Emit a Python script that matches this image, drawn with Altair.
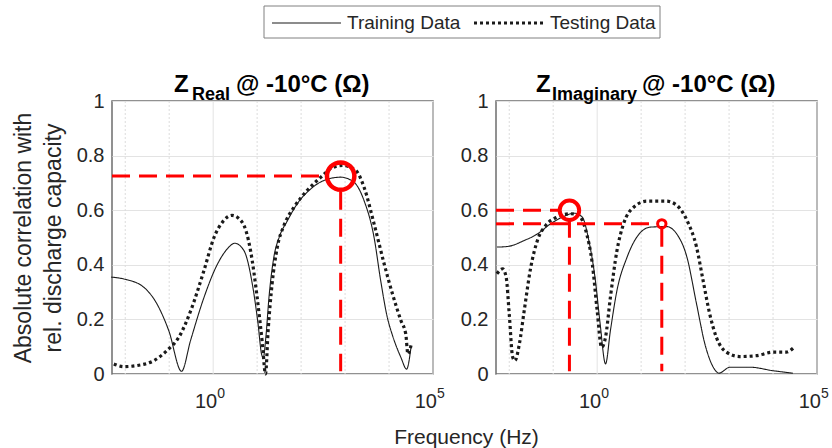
import altair as alt
import pandas as pd

FONT = "Liberation Sans"
TXT = "#262626"
SERIES = ["Training Data", "Testing Data"]
X_DOMAIN = [0.005, 100000]
Y_TICKS = [0, 0.2, 0.4, 0.6, 0.8, 1]
MINOR_DECADES = [0.01, 0.1, 10, 100, 1000, 10000]
MAJOR_DECADES = [1, 100000]
X_LABEL_BASE = ["10", "10"]
X_LABEL_EXP = ["0", "5"]

# ---- Z_Real panel ----
real_train_f = [0.00479, 0.00933, 0.0263, 0.0525, 0.0977, 0.191, 0.305, 0.617, 1.23, 2.09, 3.09, 5.01,
                7.76, 10.5, 12.6, 13.8, 15.8, 18.6, 24.0, 31.6, 49.0, 81.3, 166, 331, 794, 1580, 2690,
                4570, 6460, 9120, 12000, 18600, 25100, 31600]
real_train_y = [0.355, 0.348, 0.318, 0.257, 0.159, 0.01, 0.122, 0.28, 0.40, 0.458, 0.479, 0.452,
                0.33, 0.183, 0.073, 0.06, 0.135, 0.281, 0.428, 0.50, 0.562, 0.623, 0.678, 0.709, 0.721,
                0.703, 0.636, 0.50, 0.342, 0.208, 0.141, 0.061, 0.018, 0.098]
real_test_f = [0.0055, 0.00933, 0.0186, 0.0447, 0.0891, 0.166, 0.309, 0.617, 1.05, 1.62, 2.69, 4.57,
               7.08, 10.0, 13.2, 15.5, 17.8, 21.9, 28.8, 40.7, 69.2, 138, 282, 468, 871, 1740, 2690,
               4570, 7760, 12000, 18600, 24000, 26900, 31600]
real_test_y = [0.037, 0.027, 0.031, 0.049, 0.086, 0.135, 0.232, 0.379, 0.501, 0.556, 0.581, 0.556,
               0.452, 0.281, 0.11, 0.0, 0.16, 0.33, 0.465, 0.544, 0.611, 0.673, 0.721, 0.752, 0.764,
               0.746, 0.685, 0.55, 0.403, 0.293, 0.196, 0.147, 0.073, 0.105]
# best frequency marker (Z_Real)
real_peak_f = [794]
real_peak_y = [0.725]
real_hline_end_f = [363]
real_vline_top_y = [0.668]

# ---- Z_Imaginary panel ----
imag_train_f = [0.00525, 0.00912, 0.0219, 0.0437, 0.0871, 0.174, 0.295, 0.457, 0.646, 0.912, 1.17,
                1.55, 2.0, 2.82, 4.79, 7.94, 16.2, 38.0, 64.6, 110, 182, 282, 437, 589, 1050, 2950,
                10000, 28200]
imag_train_y = [0.465, 0.467, 0.489, 0.513, 0.55, 0.577, 0.589, 0.575, 0.489, 0.342, 0.183,
                0.037, 0.159, 0.306, 0.428, 0.501, 0.538, 0.54, 0.513, 0.428, 0.257, 0.11, 0.025,
                0.003, 0.025, 0.025, 0.012, 0.003]
imag_test_f = [0.00525, 0.00708, 0.00851, 0.01, 0.012, 0.0135, 0.017, 0.0219, 0.0309, 0.0437, 0.0676,
               0.123, 0.251, 0.38, 0.55, 0.776, 1.0, 1.26, 1.55, 2.0, 2.82, 3.98, 6.76, 13.5, 38.0,
               64.6, 110, 182, 257, 363, 513, 871, 1740, 4170, 10000, 20000, 28800]
imag_test_y = [0.367, 0.385, 0.355, 0.22, 0.061, 0.049, 0.11, 0.232, 0.391, 0.489, 0.544,
               0.575, 0.587, 0.581, 0.526, 0.403, 0.232, 0.098, 0.135, 0.281, 0.452, 0.55, 0.611,
               0.633, 0.633, 0.618, 0.563, 0.465, 0.342, 0.22, 0.135, 0.08, 0.064, 0.067, 0.08,
               0.08, 0.095]
# markers (Z_Imaginary): large and small circle
imag_peak_f = [0.234, 29.5]
imag_peak_y = [0.60, 0.55]
imag_hline_end_f = [0.145, 22.4]
imag_vline_top_y = [0.565, 0.532]

RED = "#ff0000"
W, H = 321, 273
DASH = {SERIES[0]: [1, 0], SERIES[1]: [3, 3]}
LWIDTH = {SERIES[0]: 1.1, SERIES[1]: 3.2}


def series_df(f_train, y_train, f_test, y_test):
    return pd.concat([
        pd.DataFrame({"f": f_train, "y": y_train, "series": SERIES[0]}),
        pd.DataFrame({"f": f_test, "y": y_test, "series": SERIES[1]}),
    ], ignore_index=True)


def legend_layers():
    layers = []
    box = alt.Chart(pd.DataFrame({"t": ["legend"]})).mark_rect(
        fill="white", stroke="#808080", strokeWidth=1
    ).encode(x=alt.value(152), x2=alt.value(548), y=alt.value(-95), y2=alt.value(-63))
    layers.append(box)
    xs_line = [(160, 229, 235), (362, 434, 438)]
    for s, (x0, x1, xt) in zip(SERIES, xs_line):
        d = pd.DataFrame({"t": [s]})
        layers.append(alt.Chart(d).mark_rule(
            color="#1a1a1a", strokeWidth=LWIDTH[s], strokeDash=DASH[s], strokeCap="butt"
        ).encode(x=alt.value(x0), x2=alt.value(x1), y=alt.value(-78)))
        layers.append(alt.Chart(d).mark_text(
            align="left", baseline="middle", font=FONT, fontSize=19, color=TXT
        ).encode(x=alt.value(xt), y=alt.value(-78), text="t:N"))
    return layers


def panel(df, peak_f, peak_y, hl_end, vl_top, circle_sizes, circle_widths,
          title_parts, with_legend, y_title):
    xs = alt.Scale(type="log", domain=X_DOMAIN, nice=False)
    ys = alt.Scale(domain=[0, 1], nice=False)

    y_axis = alt.Axis(values=Y_TICKS, format="~g", grid=True, gridColor="#e3e3e3",
                      ticks=False, domain=False, labelFontSize=20, labelPadding=8,
                      title=y_title if y_title else None, titleFontSize=23,
                      titleFontWeight="normal", titleLineHeight=30, titlePadding=11)
    x_axis = alt.Axis(values=MAJOR_DECADES, labels=False,
                      grid=False, ticks=False, domain=False, title=None)

    minor = alt.Chart(pd.DataFrame({"f": MINOR_DECADES})).mark_rule(
        color="#dcdcdc", strokeWidth=1, strokeDash=[2, 2]
    ).encode(x=alt.X("f:Q", scale=xs, axis=x_axis))
    major = alt.Chart(pd.DataFrame({"f": MAJOR_DECADES})).mark_rule(
        color="#e3e3e3", strokeWidth=1
    ).encode(x=alt.X("f:Q", scale=xs, axis=x_axis))

    lab_df = pd.DataFrame({"f": MAJOR_DECADES, "base": X_LABEL_BASE, "exp": X_LABEL_EXP})
    lab_base = alt.Chart(lab_df).mark_text(
        align="right", baseline="alphabetic", dx=4, font=FONT, fontSize=20, color=TXT
    ).encode(x=alt.X("f:Q", scale=xs, axis=x_axis), y=alt.value(H + 34), text="base:N")
    lab_exp = alt.Chart(lab_df).mark_text(
        align="left", baseline="alphabetic", dx=4, font=FONT, fontSize=14, color=TXT
    ).encode(x=alt.X("f:Q", scale=xs, axis=x_axis), y=alt.value(H + 24), text="exp:N")

    lines = alt.Chart(df).mark_line(color="#1a1a1a", interpolate="monotone", strokeCap="butt").encode(
        x=alt.X("f:Q", scale=xs, axis=x_axis),
        y=alt.Y("y:Q", scale=ys, axis=y_axis),
        strokeDash=alt.StrokeDash("series:N", scale=alt.Scale(domain=SERIES, range=[DASH[s] for s in SERIES]),
                                  legend=None),
        strokeWidth=alt.StrokeWidth("series:N", scale=alt.Scale(domain=SERIES, range=[LWIDTH[s] for s in SERIES]),
                                    legend=None),
    )

    hdf = pd.DataFrame({"f0": [X_DOMAIN[0]] * len(peak_y), "f1": hl_end, "y": peak_y})
    hl = alt.Chart(hdf).mark_rule(color=RED, strokeWidth=3, strokeDash=[18, 9]).encode(
        x=alt.X("f0:Q", scale=xs, axis=x_axis), x2="f1:Q", y=alt.Y("y:Q", scale=ys, axis=y_axis))
    vdf = pd.DataFrame({"f": peak_f, "y0": [0.01] * len(peak_f), "y1": vl_top})
    vl = alt.Chart(vdf).mark_rule(color=RED, strokeWidth=3, strokeDash=[18, 9]).encode(
        x=alt.X("f:Q", scale=xs, axis=x_axis), y=alt.Y("y1:Q", scale=ys, axis=y_axis), y2="y0:Q")

    circles = []
    for i in range(len(peak_f)):
        cdf = pd.DataFrame({"f": [peak_f[i]], "y": [peak_y[i]]})
        circles.append(alt.Chart(cdf).mark_point(
            shape="circle", filled=False, color=RED, size=circle_sizes[i],
            strokeWidth=circle_widths[i], opacity=1
        ).encode(x=alt.X("f:Q", scale=xs, axis=x_axis), y=alt.Y("y:Q", scale=ys, axis=y_axis)))

    texts = []
    for txt, px, py, fs in title_parts:
        texts.append(alt.Chart(pd.DataFrame({"t": [txt]})).mark_text(
            align="left", baseline="alphabetic", font=FONT, fontWeight="bold",
            fontSize=fs, color="#000000"
        ).encode(x=alt.value(px), y=alt.value(py), text="t:N"))

    extra = legend_layers() if with_legend else []
    return alt.layer(minor, major, lines, hl, vl, *circles, lab_base, lab_exp, *texts, *extra
                     ).properties(width=W, height=H)


left = panel(series_df(real_train_f, real_train_y, real_test_f, real_test_y),
             real_peak_f, real_peak_y, real_hline_end_f, real_vline_top_y,
             [750], [4.5],
             [("Z", 62, -9, 24), ("Real", 80, -1.5, 18), ("@ -10°C (Ω)", 124, -9, 24)],
             True, ["Absolute correlation with", "rel. discharge capacity"])
right = panel(series_df(imag_train_f, imag_train_y, imag_test_f, imag_test_y),
              imag_peak_f, imag_peak_y, imag_hline_end_f, imag_vline_top_y,
              [380, 70], [4, 3],
              [("Z", 40, -9, 24), ("Imaginary", 56, -1.5, 18), ("@ -10°C (Ω)", 146, -9, 24)],
              False, None)

chart = alt.hconcat(left, right, spacing=63, bounds="flush").resolve_scale(
    strokeDash="independent", strokeWidth="independent"
).properties(
    title=alt.Title("Frequency (Hz)", orient="bottom", anchor="middle", fontSize=21,
                    font=FONT, fontWeight="normal", color=TXT, offset=14, dx=46)
).configure(
    padding={"left": 11, "top": 4, "right": 0, "bottom": 0}
).configure_view(
    stroke="#6e6e6e", strokeWidth=1.5
).configure_axis(
    labelFont=FONT, titleFont=FONT, labelColor=TXT, titleColor=TXT
)

chart.save("out.html", embed_options={"renderer": "svg", "actions": False})
